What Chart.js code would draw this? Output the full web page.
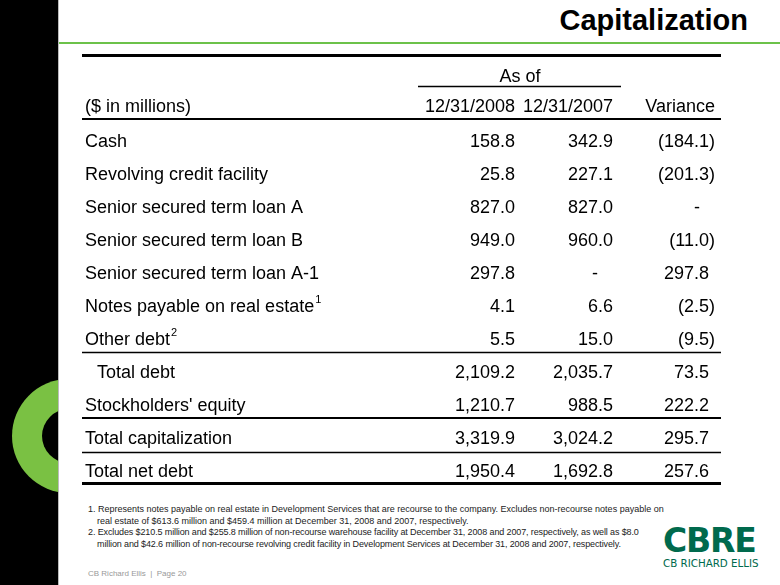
<!DOCTYPE html>
<html>
<head>
<meta charset="utf-8">
<script src="https://cdn.jsdelivr.net/npm/chart.js@4.4.1/dist/chart.umd.min.js"></script>
<style>
  html, body { margin: 0; padding: 0; background: #fff; }
  body { width: 780px; height: 585px; position: relative; overflow: hidden; font-family: "Liberation Sans", Arial, sans-serif; }
  #bar { position: absolute; left: 0; top: 0; width: 58px; height: 585px; background: #000; overflow: hidden; border-right: 1px solid #bbb; }
  #ring { position: absolute; left: 12px; top: 379px; width: 114px; height: 114px; border-radius: 50%; background: #7ac143; }
  #ring::after { content: ""; position: absolute; left: 30px; top: 30px; width: 54px; height: 54px; border-radius: 50%; background: #000; }
  #title { position: absolute; right: 32px; top: 4px; font: bold 29px "Liberation Sans", Arial, sans-serif; color: #000; }
  #greenline { position: absolute; left: 59px; top: 42px; width: 721px; height: 2px; background: #6cc24a; }
  #wrap { position: absolute; left: 60px; top: 45px; width: 680px; height: 450px; }
  #notes { position: absolute; left: 88px; top: 504px; width: 620px; font-size: 9px; line-height: 11.7px; color: #222; white-space: nowrap; }
  #notes div { padding-left: 9px; text-indent: -9px; }
  #notes .n2 { letter-spacing: -0.12px; }
  #footer { position: absolute; left: 88px; top: 569px; font-size: 8px; color: #999; }
  #logo { position: absolute; left: 663px; top: 524px; color: #006a4d; }
  #logo .big { font: bold 33px "DejaVu Sans", sans-serif; letter-spacing: -1.2px; line-height: 33px; }
  #logo .small { font: 10.3px "DejaVu Sans", sans-serif; letter-spacing: 0px; margin-top: 0px; }
</style>
</head>
<body>
<div id="bar"><div id="ring"></div></div>
<div id="title">Capitalization</div>
<div id="greenline"></div>
<div id="wrap"><canvas id="tbl" width="680" height="450"></canvas></div>
<div id="notes">
  <div>1. Represents notes payable on real estate in Development Services that are recourse to the company. Excludes non-recourse notes payable on<br>real estate of $613.6 million and $459.4 million at December 31, 2008 and 2007, respectively.</div>
  <div class="n2">2. Excludes $210.5 million and $255.8 million of non-recourse warehouse facility at December 31, 2008 and 2007, respectively, as well as $8.0<br>million and $42.6 million of non-recourse revolving credit facility in Development Services at December 31, 2008 and 2007, respectively.</div>
</div>
<div id="footer">CB Richard Ellis&nbsp; |&nbsp; Page 20</div>
<div id="logo"><div class="big">CBRE</div><div class="small">CB RICHARD ELLIS</div></div>

<script>
// Данни за таблицата
const rowLabels = ['Cash', 'Revolving credit facility', 'Senior secured term loan A', 'Senior secured term loan B',
  'Senior secured term loan A-1', 'Notes payable on real estate', 'Other debt', 'Total debt',
  "Stockholders' equity", 'Total capitalization', 'Total net debt'];
const rowNotes  = ['', '', '', '', '', '1', '2', '', '', '', ''];
const rowIndent = [0, 0, 0, 0, 0, 0, 0, 1, 0, 0, 0];
const colHeads  = ['12/31/2008', '12/31/2007', 'Variance'];
const v2008     = [158.8, 25.8, 827.0, 949.0, 297.8, 4.1, 5.5, 2109.2, 1210.7, 3319.9, 1950.4];
const v2007     = [342.9, 227.1, 827.0, 960.0, null, 6.6, 15.0, 2035.7, 988.5, 3024.2, 1692.8];
const variance  = [-184.1, -201.3, null, -11.0, 297.8, -2.5, -9.5, 73.5, 222.2, 295.7, 257.6];

const FONT = '18px "Liberation Sans", Arial, sans-serif';
const colRight = [455, 553, 655];   // десен ръб на колоните (x скала)
const labelX = 25;

function fmt(v) {
  if (v === null) return '-';
  const s = Math.abs(v).toFixed(1).replace(/\B(?=(\d{3})+(?!\d))/g, ',');
  return v < 0 ? '(' + s + ')' : s;
}

const tablePlugin = {
  id: 'tablePlugin',
  afterDraw(chart) {
    const { ctx, scales: { x, y } } = chart;
    ctx.save();
    ctx.fillStyle = '#000';
    ctx.textBaseline = 'middle';
    ctx.font = FONT;

    // заглавни редове
    ctx.textAlign = 'center';
    ctx.fillText('As of', x.getPixelForValue(460), y.getPixelForValue(-1.95));
    ctx.textAlign = 'left';
    ctx.fillText('($ in millions)', x.getPixelForValue(labelX), y.getPixelForValue(-1.04));
    ctx.textAlign = 'right';
    colHeads.forEach((h, c) => ctx.fillText(h, x.getPixelForValue(colRight[c]), y.getPixelForValue(-1.04)));

    // редове
    rowLabels.forEach((lab, i) => {
      const py = y.getPixelForValue(i + 0.04);
      ctx.font = FONT;
      ctx.textAlign = 'left';
      const lx = x.getPixelForValue(labelX + rowIndent[i] * 12);
      ctx.fillText(lab, lx, py);
      if (rowNotes[i]) {
        const w = ctx.measureText(lab).width;
        ctx.font = '11px "Liberation Sans", Arial, sans-serif';
        ctx.fillText(rowNotes[i], lx + w + 1, py - 7);
        ctx.font = FONT;
      }
      ctx.textAlign = 'right';
      [v2008, v2007, variance].forEach((arr, c) => {
        const v = arr[i];
        let rx = x.getPixelForValue(colRight[c]);
        if (v === null) rx -= 15;
        else if (c === 2 && v >= 0) rx -= 6;
        ctx.fillText(fmt(v), rx, py);
      });
    });

    // линии в таблицата
    const rule = (yv, w, x0 = 22, x1 = 661) => {
      ctx.beginPath();
      ctx.lineWidth = w;
      ctx.strokeStyle = '#000';
      const py = Math.round(y.getPixelForValue(yv)) + (w % 2 ? 0.5 : 0);
      ctx.moveTo(x.getPixelForValue(x0), py);
      ctx.lineTo(x.getPixelForValue(x1), py);
      ctx.stroke();
    };
    rule(-2.62, 3);
    rule(-1.66, 1.5, 358, 561);
    rule(-0.67, 2);
    rule(6.39, 1.5);
    rule(8.39, 2);
    rule(9.42, 1.5);
    rule(10.37, 3);
    ctx.restore();
  }
};

new Chart(document.getElementById('tbl'), {
  type: 'scatter',
  data: {
    datasets: [{
      data: rowLabels.map((_, i) => ({ x: labelX, y: i })),
      pointRadius: 0
    }]
  },
  options: {
    responsive: false,
    animation: false,
    events: [],
    layout: { padding: 0 },
    plugins: { legend: { display: false }, tooltip: { enabled: false } },
    scales: {
      x: { type: 'linear', display: false, min: 0, max: 680 },
      y: { type: 'linear', display: false, reverse: true, min: -2.909, max: 10.727 }
    }
  },
  plugins: [tablePlugin]
});
</script>
</body>
</html>
